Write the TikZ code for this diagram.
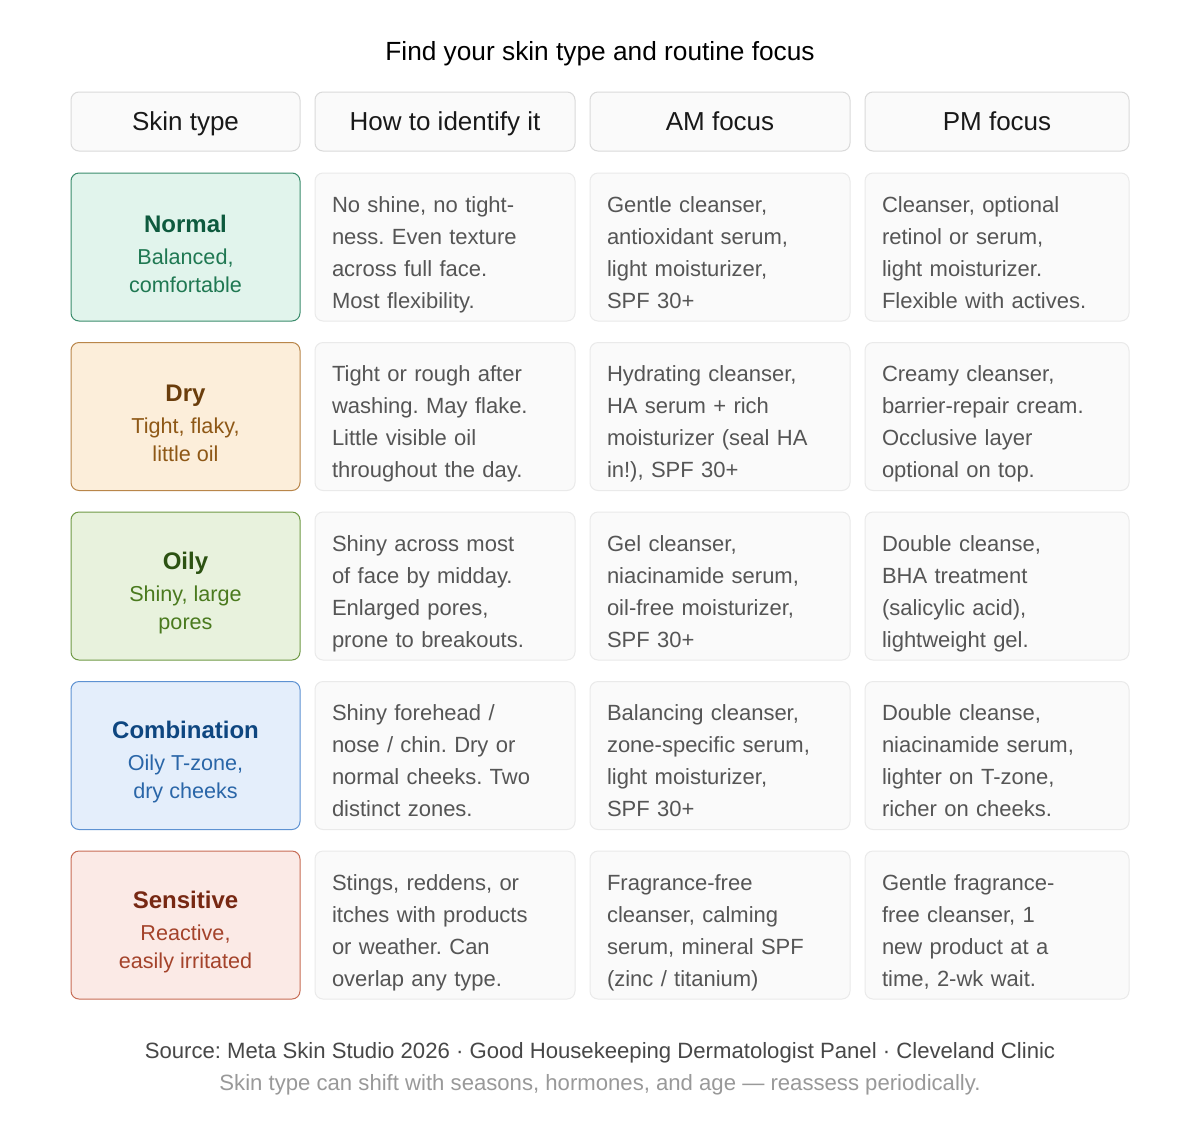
\documentclass[tikz,border=0pt]{standalone}
\usepackage{fontspec}
\setmainfont{Liberation Sans}
\usepackage{xcolor}
\definecolor{cellfill}{HTML}{FAFAFA}
\definecolor{cellline}{HTML}{EAEAEA}
\definecolor{headline}{HTML}{DADADA}
\definecolor{bodytext}{HTML}{555555}
\definecolor{normalfill}{HTML}{E1F4EC}
\definecolor{normalline}{HTML}{3A8C6C}
\definecolor{normaldark}{HTML}{0E5A3E}
\definecolor{normaltext}{HTML}{1F7852}
\definecolor{dryfill}{HTML}{FCEEDA}
\definecolor{dryline}{HTML}{B9864A}
\definecolor{drydark}{HTML}{6A3D0C}
\definecolor{drytext}{HTML}{8E5816}
\definecolor{oilyfill}{HTML}{E8F2DD}
\definecolor{oilyline}{HTML}{6F9A45}
\definecolor{oilydark}{HTML}{2C5212}
\definecolor{oilytext}{HTML}{4A7A1E}
\definecolor{combfill}{HTML}{E4EEFB}
\definecolor{combline}{HTML}{5E92D2}
\definecolor{combdark}{HTML}{0E4680}
\definecolor{combtext}{HTML}{2A66A8}
\definecolor{sensfill}{HTML}{FBEAE6}
\definecolor{sensline}{HTML}{C76C55}
\definecolor{sensdark}{HTML}{772813}
\definecolor{senstext}{HTML}{A4432B}
\usetikzlibrary{positioning}
\frenchspacing

\begin{document}
\begin{tikzpicture}[x=0.75pt, y=-0.75pt,
    cell/.style={draw=cellline, fill=cellfill, rounded corners=6pt, line width=0.75pt,
        minimum height=111pt, inner sep=0pt, align=left, text=bodytext,
        font=\fontsize{16.5}{24}\selectfont,
        execute at begin node=\rule{0pt}{26.8pt}, execute at end node=\strut},
    midcell/.style={cell, minimum width=195pt, text width=169.5pt},
    pmcell/.style={cell, minimum width=198pt, text width=172.5pt},
    head/.style={draw=headline, fill=cellfill, rounded corners=6pt, line width=0.75pt,
        minimum height=44.25pt, text=black!90, font=\fontsize{19.5}{24}\selectfont,
        text height=17pt, text depth=4pt},
    typebox/.style={rounded corners=6pt, line width=0.75pt, minimum width=171.75pt,
        minimum height=111pt},
    typetext/.style={align=center, font=\fontsize{16.2}{21}\selectfont}]
    \useasboundingbox[fill=white] (0,0) rectangle (1200,1129);
    \node (title) at (600,54) {\fontsize{19.7}{24}\selectfont Find your skin type and routine focus};
    \node[head, minimum width=171.75pt] (htype) at (185.5,121.5) {Skin type};
    \node[head, minimum width=195pt] (hident) at (445,121.5) {How to identify it};
    \node[head, minimum width=195pt] (ham) at (720,121.5) {AM focus};
    \node[head, minimum width=198pt] (hpm) at (997,121.5) {PM focus};

    \node[typebox, draw=normalline, fill=normalfill] (normal) at (185.5,247) {};
    \node[typetext, text=normaltext] (normaltxt) at (185.5,254)
        {{\color{normaldark}\fontsize{18}{22}\selectfont\bfseries Normal}\\[3pt] Balanced,\\ comfortable};
    \node[midcell] (normalid) at (445,247) {No shine, no tight-\\ ness. Even texture\\ across full face.\\ Most flexibility.};
    \node[midcell] (normalam) at (720,247) {Gentle cleanser,\\ antioxidant serum,\\ light moisturizer,\\ SPF 30+};
    \node[pmcell] (normalpm) at (997,247) {Cleanser, optional\\ retinol or serum,\\ light moisturizer.\\ Flexible with actives.};

    \node[typebox, draw=dryline, fill=dryfill] (dry) at (185.5,416.5) {};
    \node[typetext, text=drytext] (drytxt) at (185.5,423.5)
        {{\color{drydark}\fontsize{18}{22}\selectfont\bfseries Dry}\\[3pt] Tight, flaky,\\ little oil};
    \node[midcell] (dryid) at (445,416.5) {Tight or rough after\\ washing. May flake.\\ Little visible oil\\ throughout the day.};
    \node[midcell] (dryam) at (720,416.5) {Hydrating cleanser,\\ HA serum + rich\\ moisturizer (seal HA\\ in!), SPF 30+};
    \node[pmcell] (drypm) at (997,416.5) {Creamy cleanser,\\ barrier-repair cream.\\ Occlusive layer\\ optional on top.};

    \node[typebox, draw=oilyline, fill=oilyfill] (oily) at (185.5,586) {};
    \node[typetext, text=oilytext] (oilytxt) at (185.5,593)
        {{\color{oilydark}\fontsize{18}{22}\selectfont\bfseries Oily}\\[3pt] Shiny, large\\ pores};
    \node[midcell] (oilyid) at (445,586) {Shiny across most\\ of face by midday.\\ Enlarged pores,\\ prone to breakouts.};
    \node[midcell] (oilyam) at (720,586) {Gel cleanser,\\ niacinamide serum,\\ oil-free moisturizer,\\ SPF 30+};
    \node[pmcell] (oilypm) at (997,586) {Double cleanse,\\ BHA treatment\\ (salicylic acid),\\ lightweight gel.};

    \node[typebox, draw=combline, fill=combfill] (comb) at (185.5,755.5) {};
    \node[typetext, text=combtext] (combtxt) at (185.5,762.5)
        {{\color{combdark}\fontsize{18}{22}\selectfont\bfseries Combination}\\[3pt] Oily T-zone,\\ dry cheeks};
    \node[midcell] (combid) at (445,755.5) {Shiny forehead /\\ nose / chin. Dry or\\ normal cheeks. Two\\ distinct zones.};
    \node[midcell] (combam) at (720,755.5) {Balancing cleanser,\\ zone-specific serum,\\ light moisturizer,\\ SPF 30+};
    \node[pmcell] (combpm) at (997,755.5) {Double cleanse,\\ niacinamide serum,\\ lighter on T-zone,\\ richer on cheeks.};

    \node[typebox, draw=sensline, fill=sensfill] (sens) at (185.5,925) {};
    \node[typetext, text=senstext] (senstxt) at (185.5,932)
        {{\color{sensdark}\fontsize{18}{22}\selectfont\bfseries Sensitive}\\[3pt] Reactive,\\ easily irritated};
    \node[midcell] (sensid) at (445,925) {Stings, reddens, or\\ itches with products\\ or weather. Can\\ overlap any type.};
    \node[midcell] (sensam) at (720,925) {Fragrance-free\\ cleanser, calming\\ serum, mineral SPF\\ (zinc / titanium)};
    \node[pmcell] (senspm) at (997,925) {Gentle fragrance-\\ free cleanser, 1\\ new product at a\\ time, 2-wk wait.};

    \node[text=black!72, font=\fontsize{16.6}{20}\selectfont] (source) at (600,1053)
        {Source: Meta Skin Studio 2026 · Good Housekeeping Dermatologist Panel · Cleveland Clinic};
    \node[text=black!40, font=\fontsize{16.6}{20}\selectfont] (note) at (600,1085)
        {Skin type can shift with seasons, hormones, and age — reassess periodically.};
\end{tikzpicture}
\end{document}
